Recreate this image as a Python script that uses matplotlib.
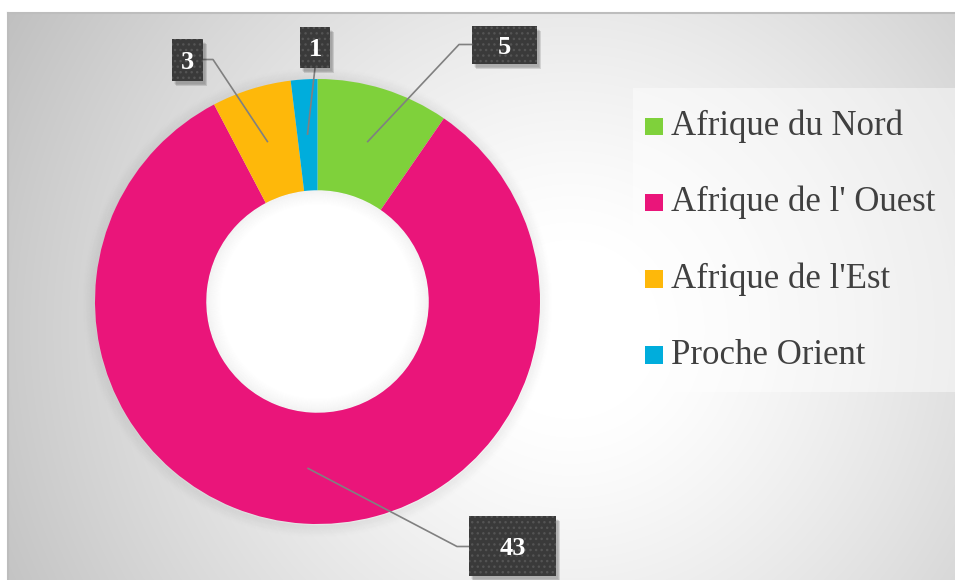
import numpy as np
import matplotlib
matplotlib.use('Agg')
import matplotlib.pyplot as plt
from matplotlib.patches import Rectangle, Circle

categories = ["Afrique du Nord", "Afrique de l' Ouest", "Afrique de l'Est", "Proche Orient"]
values = [5, 43, 3, 1]
value_labels = ["5", "43", "3", "1"]
colors = ["#7fd13b", "#ea157a", "#feb80a", "#00addc"]

SERIF = ['Liberation Serif', 'DejaVu Serif']

W, H = 955, 580
fig = plt.figure(figsize=(W / 100, H / 100), dpi=100)
fig.patch.set_facecolor('white')

# ---------- background axes (pixel coordinates) ----------
bg = fig.add_axes([0, 0, 1, 1])
x0, y0 = 8, 13
xs = np.arange(x0, W + 1) + 0.5
ys = np.arange(y0, H + 1) + 0.5
X, Y = np.meshgrid(xs, ys)
d = np.hypot(X - 570, Y - 330)
t = np.clip((d - 90) / 560, 0, 1)
v = 1 - 0.25 * t ** 1.2
bg.imshow(np.dstack([v, v, v]), extent=(x0, W + 1, H + 1, y0),
          interpolation='bilinear', aspect='auto', zorder=0)
bg.set_xlim(0, W)
bg.set_ylim(H, 0)
bg.axis('off')
bg.plot([x0, W], [y0, y0], color='#bdbdbd', lw=1.5, zorder=1)
bg.plot([x0, x0], [y0, H], color='#bdbdbd', lw=1.5, zorder=1)

# donut soft outer shadow (rings)
cxp, cyp, R = 317.5, 301.5, 222.5
for k in range(12):
    bg.add_patch(Circle((cxp, cyp + 1), R + 0.5 + k * 1.0, fill=False, ec='black',
                        lw=1.2, alpha=0.035 * (1 - k / 12), zorder=1))

# legend panel
bg.add_patch(Rectangle((633, 88), W - 633, 304, fc='white', alpha=0.45, lw=0, zorder=2))
for i, (cat, col) in enumerate(zip(categories, colors)):
    yb = 135 + i * 76.3
    bg.add_patch(Rectangle((645, yb - 17.5), 18, 17.5, fc=col, lw=0, zorder=3))
    bg.text(671, yb, cat, fontsize=25, color='#404040', family=SERIF,
            ha='left', va='baseline', zorder=3)

# ---------- donut ----------
pax = fig.add_axes([(cxp - R) / W, 1 - (cyp + R) / H, 2 * R / W, 2 * R / H])
wedges, _ = pax.pie(values, colors=colors, startangle=90, counterclock=False,
                    radius=1, wedgeprops=dict(width=0.5, linewidth=0))
# white hole with inner soft shadow
pax.add_patch(Circle((0, 0), 0.5, fc='white', lw=0, zorder=0))
for k in range(14):
    pax.add_patch(Circle((0, 0), 0.5 - 0.0045 * (k + 0.5), fill=False, ec='black',
                         lw=1.2, alpha=0.03 * (1 - k / 14), zorder=0.5))
pax.set_xlim(-1, 1)
pax.set_ylim(-1, 1)
pax.set_aspect('equal')
pax.axis('off')

# ---------- overlay for data labels ----------
ov = fig.add_axes([0, 0, 1, 1])
ov.set_xlim(0, W)
ov.set_ylim(H, 0)
ov.axis('off')
ov.patch.set_alpha(0)

box_rects = {0: (472, 26, 537, 64), 1: (469, 516, 556, 576),
             2: (172, 39, 203, 81), 3: (300, 27, 330, 68)}
elbows = {0: [(459, 44.5), (472, 44.5)], 1: [(457, 546.5), (469, 546.5)],
          2: [(213, 59.5), (203, 59.5)], 3: [(315, 68)]}

inv = ov.transData.inverted()
for i, w in enumerate(wedges):
    th = np.deg2rad((w.theta1 + w.theta2) / 2)
    p = pax.transData.transform((0.75 * np.cos(th), 0.75 * np.sin(th)))
    ax_, ay_ = inv.transform(p)
    pts = [(ax_, ay_)] + elbows[i]
    ov.plot([q[0] for q in pts], [q[1] for q in pts], color='#808080', lw=1.2,
            solid_capstyle='butt', zorder=2)
    bx0, by0, bx1, by1 = box_rects[i]
    bw, bh = bx1 - bx0, by1 - by0
    for s in range(5):
        ov.add_patch(Rectangle((bx0 + 2 + s * 0.5, by0 + 3 + s * 0.5), bw, bh,
                               fc='black', alpha=0.06, lw=0, zorder=3))
    ov.add_patch(Rectangle((bx0, by0), bw, bh, fc='#3a3a3a', ec='#545454',
                           hatch='...', lw=0, zorder=4))
    ov.text((bx0 + bx1) / 2, (by0 + by1) / 2, value_labels[i], color='white',
            fontsize=19, fontweight='bold', family=SERIF,
            ha='center', va='center_baseline', zorder=5)

fig.savefig('out.png', dpi=100)
